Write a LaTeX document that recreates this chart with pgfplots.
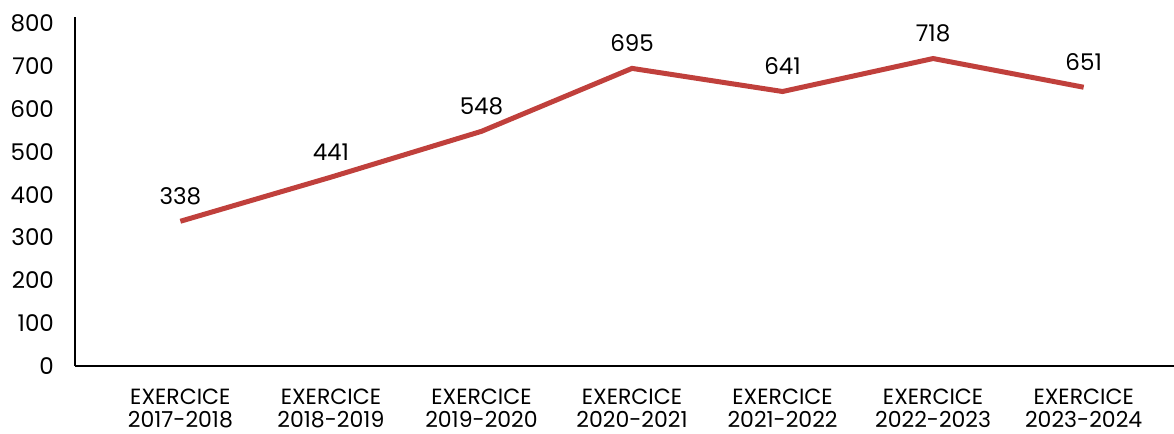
\documentclass[border=0pt]{standalone}
\usepackage{pgfplots}
\pgfplotsset{compat=1.18}
\usepackage{fontspec}
\setmainfont{Poppins}
\definecolor{linered}{HTML}{C0403C}
\begin{document}
\begin{tikzpicture}
\useasboundingbox (-37.5pt,-34pt) rectangle (549.5pt,183pt);
\begin{axis}[
  scale only axis,
  width=549.5pt, height=174.5pt,
  xmin=-0.7, xmax=6.6,
  ymin=0, ymax=815,
  axis lines=left,
  axis line style={-, line width=1pt},
  xtick=data,
  xticklabels={{EXERCICE\\2017-2018},{EXERCICE\\2018-2019},{EXERCICE\\2019-2020},{EXERCICE\\2020-2021},{EXERCICE\\2021-2022},{EXERCICE\\2022-2023},{EXERCICE\\2023-2024}},
  xticklabel style={align=center, font=\fontsize{11}{11.5}\selectfont, yshift=-8pt},
  ytick={0,100,...,800},
  yticklabel style={font=\fontsize{11.5}{12}\selectfont, xshift=-7pt},
  major tick length=0pt,
  /pgf/number format/assume math mode=true,
  clip=false,
  nodes near coords,
  every node near coord/.append style={font=\fontsize{11.5}{12}\selectfont, text=black, inner sep=0pt, yshift=7pt},
]
\addplot[color=linered, line width=2.5pt, mark=none] coordinates {
(0,338) (1,441) (2,548) (3,695) (4,641) (5,718) (6,651)
};
\end{axis}
\end{tikzpicture}
\end{document}
